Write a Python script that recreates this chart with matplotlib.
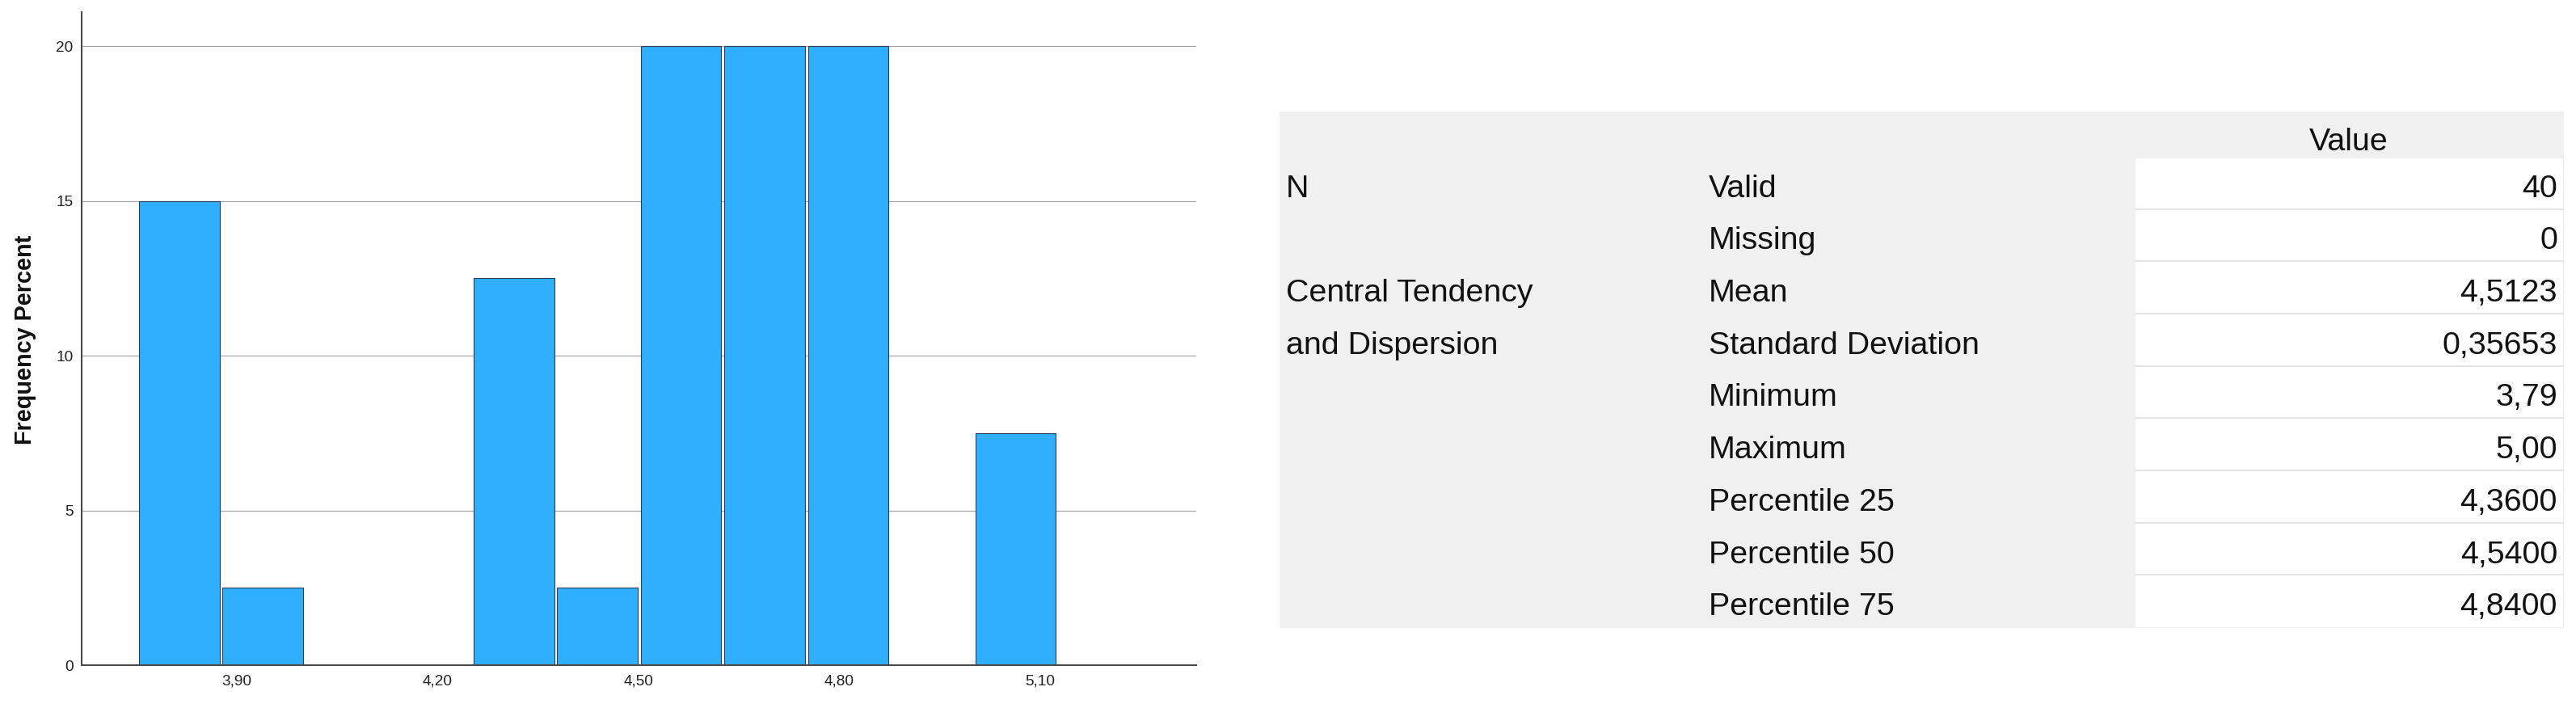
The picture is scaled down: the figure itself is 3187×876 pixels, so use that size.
import matplotlib
matplotlib.use('Agg')
import matplotlib.pyplot as plt
from matplotlib.patches import Rectangle

plt.rcParams['font.family'] = ['Liberation Sans', 'DejaVu Sans']

# Histogram data (bin centres and frequency percent)
bin_centers = [3.814, 3.939, 4.314, 4.439, 4.564, 4.689, 4.814, 5.064]
bin_percent = [15, 2.5, 12.5, 2.5, 20, 20, 20, 7.5]
bar_width = 0.1205
x_ticks = [3.90, 4.20, 4.50, 4.80, 5.10]
x_tick_labels = ['3,90', '4,20', '4,50', '4,80', '5,10']
y_ticks = [0, 5, 10, 15, 20]

# Statistics table
group_labels = ['N', '', 'Central Tendency', 'and Dispersion', '', '', '', '', '']
stat_labels = ['Valid', 'Missing', 'Mean', 'Standard Deviation', 'Minimum',
               'Maximum', 'Percentile 25', 'Percentile 50', 'Percentile 75']
stat_values = ['40', '0', '4,5123', '0,35653', '3,79', '5,00',
               '4,3600', '4,5400', '4,8400']
header = 'Value'

W, H = 3187, 876
fig = plt.figure(figsize=(W / 100, H / 100), dpi=100, facecolor='white')

# ---- histogram ----
ax = fig.add_axes([100.7 / W, 53 / H, 1379.3 / W, 808 / H])
ax.bar(bin_centers, bin_percent, width=bar_width, color='#30aeff',
       edgecolor='#2a3f55', linewidth=0.8, zorder=2)
ax.set_xlim(3.6677, 5.334)
ax.set_ylim(0, 808 / 38.285)
ax.set_xticks(x_ticks)
ax.set_xticklabels(x_tick_labels)
ax.set_yticks(y_ticks)
ax.yaxis.grid(True, color='#a8a8a8', linewidth=0.9)
ax.set_axisbelow(True)
for s in ['top', 'right']:
    ax.spines[s].set_visible(False)
for s in ['left', 'bottom']:
    ax.spines[s].set_color('#4a4a4a')
    ax.spines[s].set_linewidth(1.5)
ax.tick_params(axis='both', length=0, labelsize=13.7, labelcolor='#222222')
ax.tick_params(axis='x', pad=8)
ax.tick_params(axis='y', pad=7.2)

fig.text(30.6 / W, 1 - 420 / H, 'Frequency Percent', rotation=90,
         ha='center', va='center', fontsize=20.8, fontweight='bold',
         color='#111111')

# ---- table (drawn in figure pixel coordinates) ----
tab = fig.add_axes([0, 0, 1, 1])
tab.set_xlim(0, W)
tab.set_ylim(H, 0)
tab.axis('off')

tab.add_patch(Rectangle((1583, 138), 3172 - 1583, 777 - 138,
                        facecolor='#f0f0f0', edgecolor='none'))
tab.add_patch(Rectangle((2642, 196), 3171 - 2642, 776 - 196,
                        facecolor='white', edgecolor='none'))

row_step = 64.7
first_center = 229.5
fs = 28.4
base_off = 0.358 * fs * 100 / 72  # distance from ink centre to baseline

for i in range(len(stat_labels) - 1):
    yl = 258.5 + row_step * i
    tab.plot([2642, 3171], [yl, yl], color='#e4e4e4', linewidth=1.5)

tab.text(2906, 172 + base_off, header, ha='center', va='baseline',
         fontsize=fs, color='#111111')

for i, (g, lab, val) in enumerate(zip(group_labels, stat_labels, stat_values)):
    yb = first_center + row_step * i + base_off
    if g:
        tab.text(1591, yb, g, ha='left', va='baseline', fontsize=fs,
                 color='#111111')
    tab.text(2114, yb, lab, ha='left', va='baseline', fontsize=fs,
             color='#111111')
    tab.text(3164, yb, val, ha='right', va='baseline', fontsize=fs,
             color='#111111')

fig.savefig('out.png', dpi=100)
